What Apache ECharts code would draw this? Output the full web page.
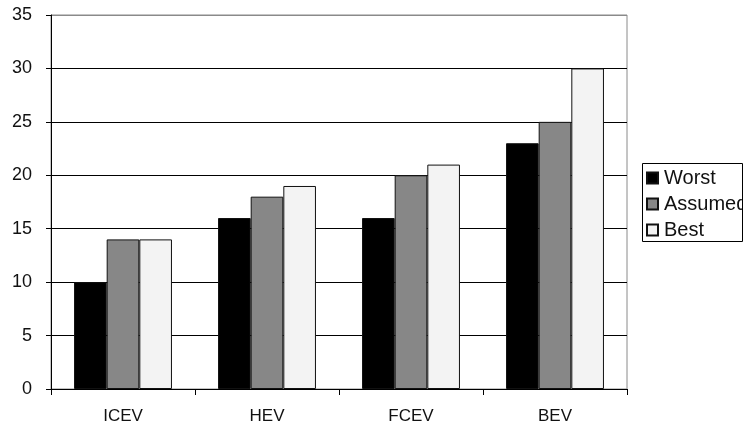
<!DOCTYPE html>
<html><head><meta charset="utf-8">
<script src="https://cdn.jsdelivr.net/npm/echarts@6/dist/echarts.min.js"></script>
<style>html,body{margin:0;padding:0;background:#fff}#c{width:743px;height:426px}</style>
</head><body><div id="c"></div>
<script>
const categories = ['ICEV', 'HEV', 'FCEV', 'BEV'];
const worst = [10, 16, 16, 23];
const assumed = [14, 18, 20, 25];
const best = [14, 19, 21, 30];
const seriesNames = ['Worst', 'Assumed', 'Best'];
const colors = ['#000000', '#878787', '#f3f3f3'];

const chart = echarts.init(document.getElementById('c'), null, {renderer: 'canvas'});
const font = 'Liberation Sans, Arial, sans-serif';
const data = [worst, assumed, best];
chart.setOption({
  animation: false,
  textStyle: {fontFamily: font},
  grid: {left: 51, top: 15, width: 576, height: 374, show: true, borderColor: '#8a8a8a', borderWidth: 1},
  graphic: [{
    type: 'rect', shape: {x: 642.5, y: 163.5, width: 100, height: 78},
    style: {fill: 'none', stroke: '#000', lineWidth: 1}, z: 10
  }],
  legend: {
    left: 646, top: 168, orient: 'vertical',
    data: seriesNames,
    padding: 0,
    itemWidth: 11, itemHeight: 11, itemGap: 6,
    icon: 'rect',
    textStyle: {fontFamily: font, fontSize: 20, lineHeight: 20, color: '#111', padding: [0, 0, 0, 1]},
  },
  xAxis: {
    type: 'category', data: categories,
    axisLine: {lineStyle: {color: '#000', width: 1}},
    axisTick: {show: true, length: 6, lineStyle: {color: '#000'}},
    axisLabel: {fontSize: 17, color: '#111', margin: 19, fontFamily: font},
    splitLine: {show: false}
  },
  yAxis: {
    type: 'value', min: 0, max: 35, interval: 5,
    axisLine: {show: true, lineStyle: {color: '#000', width: 1}},
    axisTick: {show: true, length: 5, lineStyle: {color: '#000'}},
    axisLabel: {fontSize: 18, color: '#111', margin: 19, fontFamily: font, padding: [4, 0, 0, 0]},
    splitLine: {show: true, lineStyle: {color: ['#000','#000','#000','#000','#000','#000','#000','#8a8a8a'], width: 1}}
  },
  series: seriesNames.map((n, i) => ({
    name: n, type: 'bar', data: data[i],
    barGap: '0%', barCategoryGap: '32%',
    itemStyle: {color: colors[i], borderColor: '#111', borderWidth: 1}
  }))
});
</script></body></html>
